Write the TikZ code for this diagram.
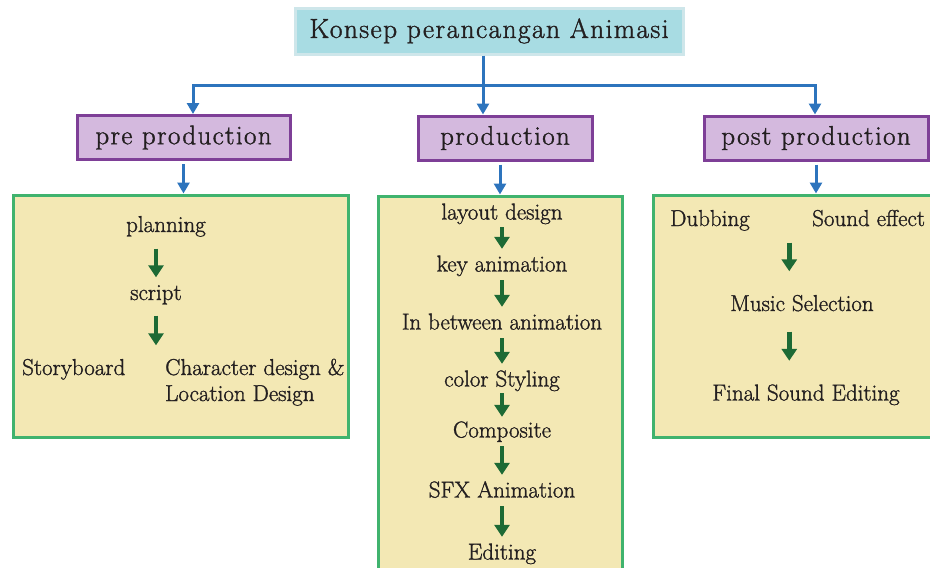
\documentclass[tikz,border=0pt]{standalone}
\usepackage{fontspec}
\setmainfont{Latin Modern Roman}[FakeBold=1.3]
\usetikzlibrary{arrows.meta,calc}
\newfontfamily\headfont[LetterSpace=5,FakeBold=1.3]{Latin Modern Roman}
\definecolor{km_cyan}{RGB}{168, 220, 227}
\definecolor{km_cyanline}{RGB}{206, 230, 234}
\definecolor{km_lilac}{RGB}{212, 185, 222}
\definecolor{km_purple}{RGB}{126, 63, 151}
\definecolor{km_sand}{RGB}{243, 232, 180}
\definecolor{km_green}{RGB}{64, 179, 110}
\definecolor{km_dkgreen}{RGB}{29, 106, 53}
\definecolor{km_blue}{RGB}{45, 116, 189}
\definecolor{km_ink}{RGB}{35, 31, 32}
\tikzstyle{tb}=[rectangle,fill=km_cyan,draw=km_cyanline,line width=3pt,
  inner sep=0pt,minimum width=388pt,minimum height=46pt,text=km_ink,
  font=\headfont\fontsize{27.5}{32}\selectfont]
\tikzstyle{pb}=[rectangle,fill=km_lilac,draw=km_purple,line width=3pt,
  inner sep=0pt,minimum height=44pt,text=km_ink,
  font=\headfont\fontsize{27}{31}\selectfont]
\tikzstyle{gb}=[rectangle,fill=km_sand,draw=km_green,line width=3pt,inner sep=0pt]
\tikzstyle{tx}=[inner sep=0pt,text height=15.5pt,text depth=5.5pt,anchor=base,
  text=km_ink,font=\fontsize{23}{28}\selectfont]
\tikzstyle{bl}=[draw=km_blue,line width=3pt]
\tikzstyle{ba}=[bl,-{Triangle[width=12pt,length=11pt]}]
\tikzstyle{ga}=[draw=km_dkgreen,line width=4.5pt,-{Triangle[width=15pt,length=12pt]}]

\begin{document}
\begin{tikzpicture}[x=1pt, y=-1pt]
            \useasboundingbox (0, 0) rectangle (930, 568);
            \node [style=tb] (0) at (489, 31) {Konsep perancangan Animasi};
            \node [style=pb, minimum width=213pt] (1) at (183.5, 137.5) {pre production};
            \node [style=pb, minimum width=174pt] (2) at (505, 138) {production};
            \node [style=pb, minimum width=224pt] (3) at (816, 138) {post production};
            \node [style=gb, minimum width=335pt, minimum height=242pt] (4) at (180.5, 316) {};
            \node [style=gb, minimum width=244pt, minimum height=390pt] (5) at (500, 391) {};
            \node [style=gb, minimum width=290pt, minimum height=242pt] (6) at (798, 316) {};
            % pre production
            \node [style=tx] (7) at (166, 232) {planning};
            \node [style=tx] (8) at (156, 300) {script};
            \node [style=tx, anchor=base west] (9) at (22, 375) {Storyboard};
            \node [style=tx, anchor=base west] (10) at (165, 375) {Character design \&};
            \node [style=tx, anchor=base west] (11) at (165, 401) {Location Design};
            % production
            \node [style=tx] (12) at (502, 219.5) {layout design};
            \node [style=tx] (13) at (502, 271.5) {key animation};
            \node [style=tx] (14) at (502, 329.5) {In between animation};
            \node [style=tx] (15) at (502, 386.5) {color Styling};
            \node [style=tx] (16) at (502, 437.5) {Composite};
            \node [style=tx] (17) at (502, 497.5) {SFX Animation};
            \node [style=tx] (18) at (502, 559.5) {Editing};
            % post production
            \node [style=tx, anchor=base west] (19) at (670, 226) {Dubbing};
            \node [style=tx, anchor=base west] (20) at (812, 226) {Sound effect};
            \node [style=tx] (21) at (802, 311) {Music Selection};
            \node [style=tx] (22) at (806, 400.5) {Final Sound Editing};
            \coordinate (23) at ($(19.south)!0.5!(20.south)$);
            \coordinate (24) at (193, 85);
            \coordinate (25) at (483, 85);
            \coordinate (26) at (815, 85);
            \draw [style=bl] (0.south -| 25) to (25);
            \draw [style=ba] (25) -- (24) -- (1.north -| 24);
            \draw [style=ba] (25) -- (26) -- (3.north -| 26);
            \draw [style=ba] (25) to (2.north -| 25);
            \draw [style=ba, shorten <=3pt] (1.south) to (1.south |- 4.north);
            \draw [style=ba, shorten <=3pt] (2.south -| 5) to (5.north);
            \draw [style=ba, shorten <=3pt] (3.south) to (3.south |- 6.north);
            \draw [style=ga, shorten <=11pt, shorten >=7pt] (7.south -| 8) to (8.north);
            \draw [style=ga, shorten <=10pt, shorten >=14pt] (8.south) to (8.south |- 9.north);
            \draw [style=ga, shorten <=2pt, shorten >=7pt] (12) to (13);
            \draw [style=ga, shorten <=3pt, shorten >=7pt] (13) to (14);
            \draw [style=ga, shorten <=3pt, shorten >=7pt] (14) to (15);
            \draw [style=ga, shorten <=1pt, shorten >=5pt] (15) to (16);
            \draw [style=ga, shorten <=3pt, shorten >=7pt] (16) to (17);
            \draw [style=ga, shorten <=3pt, shorten >=7pt] (17) to (18);
            \draw [style=ga, shorten <=11pt, shorten >=24pt] (23) to (23 |- 21.north);
            \draw [style=ga, shorten <=15pt, shorten >=24pt] (21.south -| 23) to (22.north -| 23);
    \end{tikzpicture}
\end{document}
